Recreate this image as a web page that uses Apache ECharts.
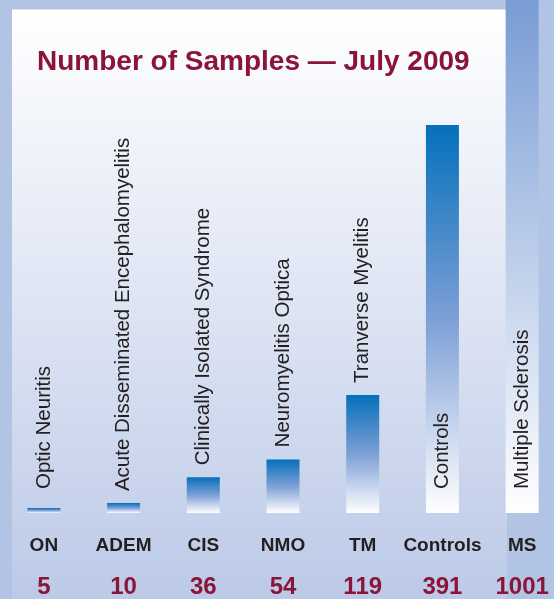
<!DOCTYPE html>
<html>
<head>
<meta charset="utf-8">
<title>Number of Samples</title>
<script src="https://cdn.jsdelivr.net/npm/echarts@6/dist/echarts.min.js"></script>
<style>
  html, body { margin: 0; padding: 0; background: #b2c4e4; }
  #chart { width: 554px; height: 599px; }
</style>
</head>
<body>
<div id="chart"></div>
<script>
// data
var codes = ['ON', 'ADEM', 'CIS', 'NMO', 'TM', 'Controls', 'MS'];
var fullNames = ['Optic Neuritis', 'Acute Disseminated Encephalomyelitis', 'Clinically Isolated Syndrome',
    'Neuromyelitis Optica', 'Tranverse Myelitis', 'Controls', 'Multiple Sclerosis'];
var samples = [5, 10, 36, 54, 119, 391, 1001];

var myChart = echarts.init(document.getElementById('chart'));

var barFill = new echarts.graphic.LinearGradient(0, 0, 0, 1, [
    {offset: 0, color: '#0570bb'},
    {offset: 0.5, color: '#7d9fd6'},
    {offset: 1, color: '#ffffff'}
]);

// names sit inside big bars / at a fixed base for tiny ones, else above the bar
var barData = samples.map(function (v, i) {
    var inside = v < 8 || v > 300;
    return {
        value: v,
        label: {
            position: inside ? 'insideBottom' : 'top',
            distance: inside ? 24 : 12,
            formatter: fullNames[i]
        }
    };
});

var option = {
    backgroundColor: '#b2c4e4',
    animation: false,
    graphic: [{
        type: 'rect',
        z: -10,
        shape: {x: 12, y: 9.5, width: 495, height: 600},
        style: {
            fill: new echarts.graphic.LinearGradient(0, 0, 0, 1, [
                {offset: 0, color: '#ffffff'},
                {offset: 1, color: '#bbc9e7'}
            ])
        }
    }],
    title: {
        text: 'Number of Samples \u2014 July 2009',
        left: 37,
        top: 48,
        padding: 0,
        textStyle: {
            fontFamily: 'Liberation Sans',
            fontSize: 28,
            fontWeight: 'bold',
            color: '#8b1538'
        }
    },
    grid: {left: 4, top: 0, width: 558, bottom: 86, outerBoundsMode: 'none', containLabel: false},
    xAxis: {
        type: 'category',
        data: codes,
        axisLine: {show: false},
        axisTick: {show: false},
        axisLabel: {
            interval: 0,
            margin: 15,
            formatter: function (v, i) {
                return '{c|' + v + '}\n{n|' + samples[i] + '}';
            },
            rich: {
                c: {fontFamily: 'Liberation Sans', fontSize: 19, fontWeight: 'bold', color: '#231f20', lineHeight: 36},
                n: {fontFamily: 'Liberation Sans', fontSize: 24, fontWeight: 'bold', color: '#8b1538', lineHeight: 46}
            }
        }
    },
    yAxis: {
        type: 'value',
        min: 0,
        max: 517,
        show: false,
        splitLine: {show: false}
    },
    series: [{
        type: 'bar',
        data: barData,
        barWidth: 33,
        clip: false,
        itemStyle: {color: barFill},
        label: {
            show: true,
            rotate: 90,
            align: 'left',
            verticalAlign: 'middle',
            fontFamily: 'Liberation Sans',
            fontSize: 20.5,
            color: '#231f20'
        }
    }]
};
myChart.setOption(option);
</script>
</body>
</html>
